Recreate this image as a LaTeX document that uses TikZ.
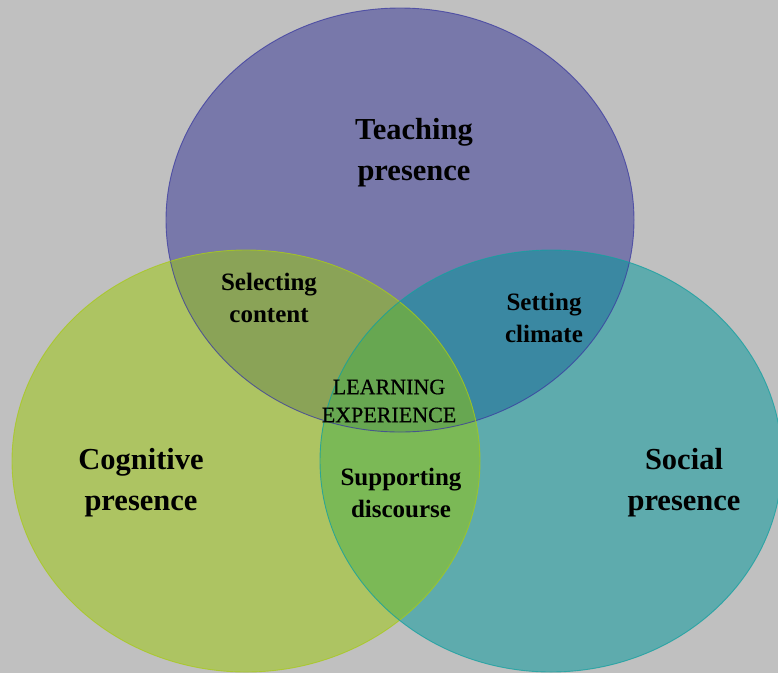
\documentclass[tikz,border=0pt]{standalone}
\usepackage{fontspec}
\setmainfont{Liberation Serif}
\newfontfamily\semibfont[FakeBold=0.6]{Liberation Serif}
\definecolor{bgc}{HTML}{C0C0C0}
\definecolor{tonly}{HTML}{7878AA}
\definecolor{conly}{HTML}{ADC462}
\definecolor{sonly}{HTML}{5EABAD}
\definecolor{tc}{HTML}{8AA357}
\definecolor{ts}{HTML}{3A88A2}
\definecolor{cs}{HTML}{7BB956}
\definecolor{tcs}{HTML}{67A751}
\definecolor{tline}{HTML}{3A3AA0}
\definecolor{cline}{HTML}{A8CA18}
\definecolor{sline}{HTML}{12A0A0}
\tikzset{
  bigtxt/.style={font=\fontsize{30.5}{41}\selectfont\bfseries, align=center, text=black, inner sep=0pt},
  midtxt/.style={font=\fontsize{25}{32}\selectfont\bfseries, align=center, text=black, inner sep=0pt},
  captxt/.style={font=\semibfont\fontsize{22}{28}\selectfont, align=center, text=black, inner sep=0pt},
  rim/.style={line width=0.9pt, draw opacity=0.75}
}
\begin{document}
\begin{tikzpicture}[x=1pt,y=-1pt]
\useasboundingbox (0,0) rectangle (778,673);
\fill[bgc] (0,0) rectangle (778,673);
\clip (0,0) rectangle (778,673);
\def\ET{(400,220) ellipse [x radius=234, y radius=212]}
\def\EC{(246,461) ellipse [x radius=234, y radius=211]}
\def\ES{(551,461) ellipse [x radius=231, y radius=211]}
% base fills
\fill[tonly] \ET;
\fill[conly] \EC;
\fill[sonly] \ES;
% pairwise overlaps
\begin{scope}\clip \ET; \fill[tc] \EC; \end{scope}
\begin{scope}\clip \ET; \fill[ts] \ES; \end{scope}
\begin{scope}\clip \EC; \fill[cs] \ES; \end{scope}
\begin{scope}\clip \ET; \clip \EC; \fill[tcs] \ES; \end{scope}
% outlines
\draw[rim, tline] \ET;
\draw[rim, cline] \EC;
\draw[rim, sline] \ES;
% labels
\node[bigtxt] (teach) at (414,153) {Teaching\\presence};
\node[bigtxt] (cogn) at (141,483) {Cognitive\\presence};
\node[bigtxt] (soc) at (684,483) {Social\\presence};
\node[midtxt] (sel) at (269,298) {Selecting\\content};
\node[midtxt] (set) at (544,318) {Setting\\climate};
\node[captxt] (learn) at (389,401) {LEARNING\\EXPERIENCE};
\node[midtxt] (sup) at (401,493) {Supporting\\discourse};
\end{tikzpicture}
\end{document}
